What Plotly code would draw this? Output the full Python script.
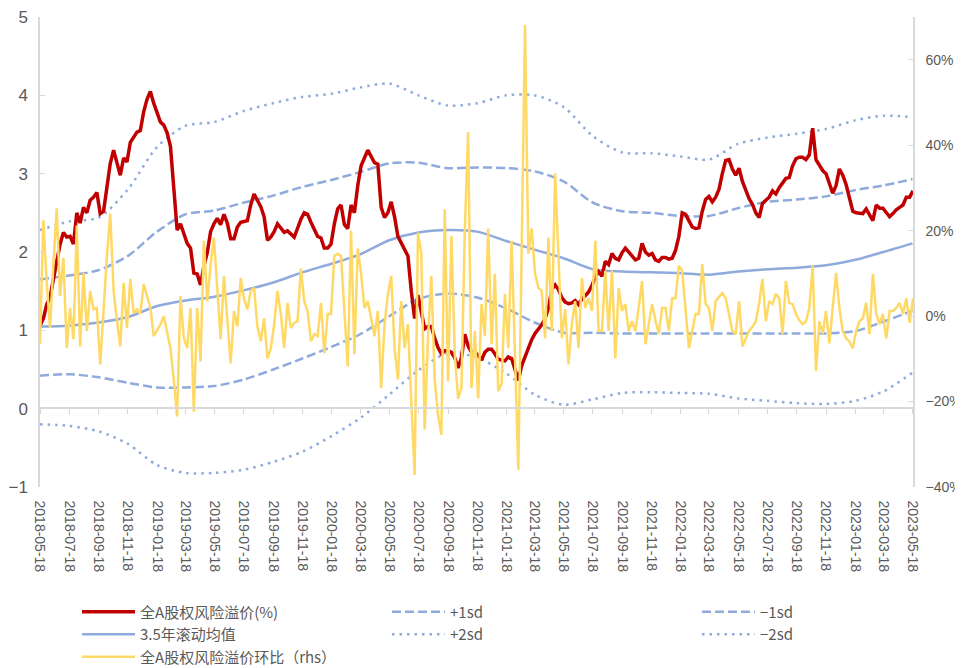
import pandas as pd
import plotly.graph_objects as go

# ---------------- data ----------------
start_date = "2018-05-18"
n_weeks = 262

# 全A股权风险溢价 (%), weekly
erp = [
    1.06, 1.15, 1.33, 1.42, 1.65, 1.90, 2.10, 2.25, 2.19, 2.20,
    2.10, 2.50, 2.37, 2.57, 2.50, 2.66, 2.70, 2.76, 2.49, 2.52,
    2.85, 3.13, 3.30, 3.15, 2.98, 3.20, 3.15, 3.40, 3.47, 3.53,
    3.55, 3.79, 3.95, 4.05, 3.90, 3.77, 3.66, 3.62, 3.52, 3.35,
    2.85, 2.28, 2.36, 2.22, 2.11, 2.05, 1.73, 1.72, 1.58, 1.82,
    1.99, 2.26, 2.36, 2.43, 2.35, 2.48, 2.37, 2.17, 2.17, 2.32,
    2.38, 2.39, 2.40, 2.60, 2.74, 2.66, 2.58, 2.45, 2.15, 2.19,
    2.26, 2.36, 2.30, 2.25, 2.27, 2.23, 2.19, 2.30, 2.42, 2.50,
    2.48, 2.38, 2.29, 2.20, 2.18, 2.05, 2.05, 2.10, 2.36, 2.55,
    2.60, 2.35, 2.30, 2.60, 2.50, 2.85, 3.10, 3.20, 3.30, 3.22,
    3.14, 3.12, 2.57, 2.44, 2.50, 2.64, 2.45, 2.20, 2.12, 2.03,
    1.95, 1.50, 1.15, 1.45, 1.22, 1.02, 1.05, 1.05, 0.90, 0.78,
    0.70, 0.74, 0.74, 0.72, 0.65, 0.52, 0.65, 0.95, 0.80, 0.72,
    0.72, 0.68, 0.62, 0.72, 0.76, 0.76, 0.70, 0.63, 0.62, 0.61,
    0.66, 0.64, 0.50, 0.36, 0.55, 0.66, 0.80, 0.88, 0.96, 1.02,
    1.07, 1.15, 1.28, 1.52, 1.58, 1.52, 1.42, 1.36, 1.34, 1.35,
    1.38, 1.33, 1.40, 1.44, 1.49, 1.57, 1.68, 1.75, 1.69, 1.88,
    1.84, 1.98, 1.92, 1.90, 1.99, 2.05, 2.00, 1.96, 1.90, 1.92,
    2.11, 2.00, 1.96, 1.98, 1.90, 1.88, 1.93, 1.93, 1.91, 1.92,
    2.02, 2.20, 2.50, 2.48, 2.39, 2.32, 2.30, 2.31, 2.52, 2.67,
    2.71, 2.64, 2.70, 2.80, 3.00, 3.17, 3.18, 3.06, 2.98, 3.07,
    2.90, 2.78, 2.68, 2.61, 2.50, 2.44, 2.62, 2.66, 2.70, 2.78,
    2.74, 2.82, 2.88, 2.94, 2.95, 3.10, 3.19, 3.21, 3.21, 3.18,
    3.24, 3.58, 3.18, 3.10, 3.04, 3.00, 2.88, 2.75, 2.85, 3.06,
    2.98, 2.86, 2.69, 2.52, 2.50, 2.49, 2.49, 2.55, 2.48, 2.40,
    2.60, 2.56, 2.56, 2.50, 2.45, 2.49, 2.54, 2.57, 2.60, 2.70,
    2.70, 2.78,
]

# 全A股权风险溢价环比 (rhs, %), weekly
erp_wow = [
    -6.6, 22.4, 8.0, -2.8, 12.0, 25.2, 4.7, 13.6, -7.5, 1.9,
    -5.4, 21.2, -7.1, 10.1, -3.5, 5.9, 1.6, 1.9, -11.3, 2.0,
    14.0, 24.0, 5.9, -1.0, -7.1, 7.8, -2.8, 8.7, 0.7, 1.6,
    0.5, 7.5, 4.5, 1.9, -4.7, -3.5, -2.0, 0.0, -4.0, -7.5,
    -15.0, -23.5, 4.7, -5.2, -7.5, 1.9, -22.4, 1.9, -10.6, 17.6,
    3.5, 12.0, 18.4, 6.0, -5.4, 9.4, -1.9, -11.1, 1.2, -2.4,
    8.9, 4.0, 1.6, 5.9, 6.6, -2.4, -5.9, -0.5, -9.9, -7.5,
    -2.0, 5.9, 0.5, -7.5, 3.1, -2.8, -1.6, -1.2, 11.1, 3.5,
    1.2, -5.9, -4.2, -4.7, 3.1, -8.7, 0.5, 0.5, 14.1, 14.6,
    14.1, 2.0, -11.8, 20.0, -8.9, 15.8, 9.9, 1.9, 3.5, -0.5,
    -4.7, 1.2, -16.9, -1.9, 5.0, 9.4, -7.5, -14.8, 3.5, -7.5,
    -1.9, -20.0, -37.2, 19.5, 14.6, -26.6, -5.0, 9.4, -15.0, -23.1,
    -27.8, 25.0, -15.3, 18.8, -8.9, -19.3, -16.9, 20.0, 43.1, -16.9,
    -3.5, -19.3, 2.8, -4.7, 20.5, -6.6, 9.9, -17.6, -15.8, 5.2,
    -7.5, 17.6, -10.0, -36.0, 15.3, 68.2, 14.6, 20.5, 10.0, 6.6,
    5.9, -5.2, 18.4, -3.5, 33.4, 16.0, -5.2, 1.6, -11.3, -1.9,
    3.5, -7.5, 8.9, 1.9, 4.2, 1.2, 17.6, -3.5, -3.5, 10.6,
    -3.5, 10.6, -9.9, 6.6, 1.2, 2.8, -3.5, -1.2, -3.5, 2.0,
    8.2, -6.6, -2.0, 2.8, -1.0, -4.2, 1.9, 1.9, -3.5, 4.2,
    4.2, 11.8, 10.6, 2.0, -7.5, -3.5, 0.5, 0.5, 12.2, 2.8,
    1.9, -3.5, 3.5, 4.5, 5.4, 4.2, 0.0, -3.5, -4.2, 3.5,
    -7.1, -5.2, -3.5, -2.5, -1.2, 3.0, 8.7, -1.2, 3.5, 2.8,
    5.2, 4.2, -4.2, 8.2, 3.1, 2.8, 0.5, -1.0, -1.9, -1.2,
    1.9, 11.8, -12.9, -1.2, -4.2, 1.2, -6.4, 1.9, 10.1, 1.9,
    -3.5, -5.2, -6.0, -7.5, -3.5, -1.2, -0.5, 3.1, -4.2, 9.9,
    0.5, -1.9, 0.5, -5.2, 1.2, 1.2, 1.9, 3.1, 0.5, 4.2,
    -1.6, 4.2,
]

# axis tick labels (every two months) - also the sample dates of the bands
tick_labels = [
    "2018-05-18", "2018-07-18", "2018-09-18", "2018-11-18",
    "2019-01-18", "2019-03-18", "2019-05-18", "2019-07-18", "2019-09-18", "2019-11-18",
    "2020-01-18", "2020-03-18", "2020-05-18", "2020-07-18", "2020-09-18", "2020-11-18",
    "2021-01-18", "2021-03-18", "2021-05-18", "2021-07-18", "2021-09-18", "2021-11-18",
    "2022-01-18", "2022-03-18", "2022-05-18", "2022-07-18", "2022-09-18", "2022-11-18",
    "2023-01-18", "2023-03-18", "2023-05-18",
]
lhs_ticks = [-1, 0, 1, 2, 3, 4, 5]
lhs_tick_text = ["−1", "0", "1", "2", "3", "4", "5"]
rhs_ticks = [-40, -20, 0, 20, 40, 60]
rhs_tick_text = ["−40%", "−20%", "0%", "20%", "40%", "60%"]

# 3.5年滚动均值 and bands (sampled every two months)
roll_mean = [1.05, 1.06, 1.10, 1.17, 1.31, 1.38, 1.43, 1.51, 1.61, 1.74,
             1.85, 1.97, 2.15, 2.25, 2.28, 2.26, 2.14, 2.03, 1.92, 1.78,
             1.75, 1.74, 1.73, 1.71, 1.75, 1.78, 1.80, 1.83, 1.90, 2.00, 2.11]
plus_1sd = [1.65, 1.70, 1.77, 1.95, 2.26, 2.48, 2.53, 2.63, 2.72, 2.83,
            2.92, 3.02, 3.13, 3.14, 3.07, 3.08, 3.07, 3.03, 2.90, 2.63,
            2.52, 2.50, 2.46, 2.46, 2.56, 2.64, 2.67, 2.71, 2.79, 2.85, 2.93]
minus_1sd = [0.42, 0.44, 0.40, 0.33, 0.27, 0.27, 0.29, 0.37, 0.50, 0.64,
             0.79, 0.95, 1.18, 1.40, 1.47, 1.42, 1.28, 1.10, 0.97, 0.97,
             0.96, 0.96, 0.96, 0.96, 0.96, 0.96, 0.96, 0.96, 0.99, 1.11, 1.25]
plus_2sd = [2.28, 2.39, 2.44, 2.80, 3.34, 3.61, 3.66, 3.80, 3.90, 3.98,
            4.02, 4.10, 4.15, 4.00, 3.87, 3.90, 4.00, 4.00, 3.85, 3.48,
            3.27, 3.26, 3.22, 3.18, 3.38, 3.46, 3.51, 3.57, 3.68, 3.74, 3.72]
minus_2sd = [-0.20, -0.22, -0.29, -0.45, -0.72, -0.82, -0.82, -0.78, -0.68, -0.55,
             -0.35, -0.12, 0.18, 0.49, 0.71, 0.65, 0.45, 0.18, 0.05, 0.12,
             0.20, 0.21, 0.20, 0.19, 0.13, 0.10, 0.07, 0.06, 0.10, 0.22, 0.46]

# ---------------- styling ----------------
RED = "#C00000"
BLUE = "#8FAADC"
YELLOW = "#FFD966"
GREY_TXT = "#595959"
AXIS = "#D9D9D9"
FONT = "Liberation Sans, Noto Sans CJK SC, sans-serif"
LEG_FONT = dict(size=15, color=GREY_TXT, family="Noto Sans CJK SC, Liberation Sans")

week_dates = pd.date_range(start_date, periods=n_weeks, freq="7D")
band_dates = pd.to_datetime(tick_labels)

fig = go.Figure()

def band(name, vals, dash, legend):
    fig.add_trace(go.Scatter(
        x=band_dates, y=vals, name=name, mode="lines",
        line=dict(color=BLUE, width=2.5, dash=dash, shape="spline", smoothing=0.8),
        legend=legend, yaxis="y",
    ))

band("3.5年滚动均值", roll_mean, "solid", "legend")
band("+1sd", plus_1sd, "9px,4px", "legend2")
band("+2sd", plus_2sd, "2.5px,5px", "legend2")
band("−1sd", minus_1sd, "9px,4px", "legend3")
band("−2sd", minus_2sd, "2.5px,5px", "legend3")

fig.add_trace(go.Scatter(
    x=week_dates, y=erp, name="全A股权风险溢价(%)", mode="lines",
    line=dict(color=RED, width=3.5), legend="legend", legendrank=1, yaxis="y",
))
fig.add_trace(go.Scatter(
    x=week_dates, y=erp_wow, name="全A股权风险溢价环比（rhs）", mode="lines",
    line=dict(color=YELLOW, width=2.5), legend="legend", legendrank=1001, yaxis="y2",
))

def leg(xpos):
    return dict(
        orientation="v", x=xpos, xanchor="left", y=-0.231, yanchor="top",
        itemwidth=53, traceorder="normal", font=LEG_FONT,
        bgcolor="rgba(0,0,0,0)", borderwidth=0,
    )

fig.update_layout(
    width=955, height=660,
    margin=dict(l=32, r=50, t=9, b=181, autoexpand=False),
    paper_bgcolor="white", plot_bgcolor="white",
    font=dict(family=FONT, color=GREY_TXT),
    showlegend=True,
    legend=leg(0.0424),
    legend2=leg(0.3975),
    legend3=leg(0.7526),
    xaxis=dict(
        type="date", range=[week_dates[0], week_dates[-1]],
        anchor="free", position=0.1681, automargin=False,
        showline=True, linecolor=AXIS, linewidth=1.5,
        ticks="outside", ticklen=5, tickcolor=AXIS, tickwidth=1,
        tickvals=band_dates, ticktext=tick_labels, tickangle=90,
        ticklabelstandoff=84, ticklabeloverflow="allow",
        tickfont=dict(size=14, color=GREY_TXT),
        showgrid=False, zeroline=False,
    ),
    yaxis=dict(
        range=[-1, 5], tickmode="array", tickvals=lhs_ticks, ticktext=lhs_tick_text,
        showline=True, linecolor=AXIS, linewidth=1.5,
        ticks="inside", ticklen=5, tickcolor=AXIS, automargin=False,
        ticklabelstandoff=7, ticklabeloverflow="allow",
        tickfont=dict(size=17, color=GREY_TXT),
        showgrid=False, zeroline=False,
    ),
    yaxis2=dict(
        range=[-40, 70], tickmode="array", tickvals=rhs_ticks, ticktext=rhs_tick_text,
        overlaying="y", side="right", anchor="x", automargin=False,
        showline=True, linecolor=AXIS, linewidth=1.5,
        ticks="inside", ticklen=5, tickcolor=AXIS,
        ticklabelstandoff=8, ticklabeloverflow="allow",
        tickfont=dict(size=14, color=GREY_TXT),
        showgrid=False, zeroline=False,
    ),
)

fig.write_html("out.html")
